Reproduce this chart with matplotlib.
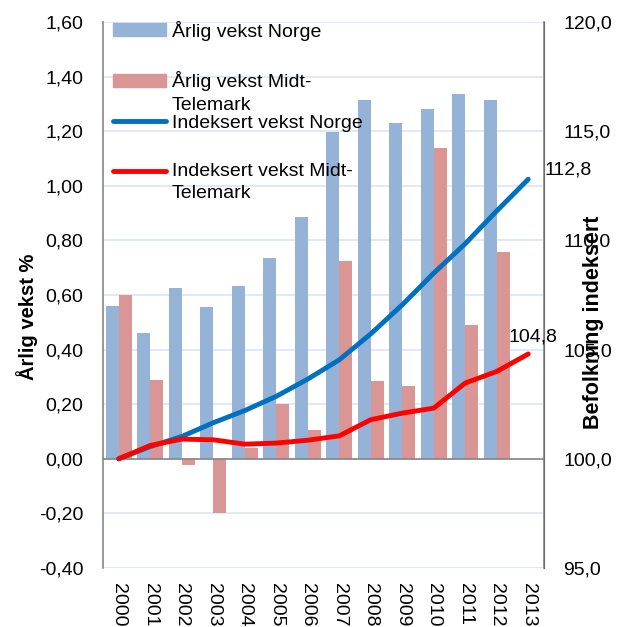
import numpy as np
import matplotlib
matplotlib.use("Agg")
import matplotlib.pyplot as plt
from matplotlib.patches import Patch
from matplotlib.lines import Line2D
from matplotlib.legend_handler import HandlerPatch, HandlerLine2D
from matplotlib.ticker import FuncFormatter

plt.rcParams['font.family'] = ['Liberation Sans', 'DejaVu Sans']

years = [str(y) for y in range(2000, 2014)]
vekst_norge = [0.56, 0.46, 0.625, 0.555, 0.634, 0.737, 0.884, 1.198, 1.314, 1.23, 1.28, 1.335, 1.314]
vekst_midt = [0.60, 0.287, -0.023, -0.20, 0.04, 0.199, 0.106, 0.723, 0.285, 0.265, 1.137, 0.49, 0.758]
indeks_norge = [100.0, 100.56, 101.02, 101.65, 102.21, 102.86, 103.65, 104.53, 105.72, 107.05, 108.5, 109.85, 111.35, 112.8]
indeks_midt = [100.0, 100.61, 100.9, 100.87, 100.67, 100.72, 100.85, 101.05, 101.79, 102.09, 102.32, 103.47, 104.0, 104.8]

blue_bar = '#95B3D7'
red_bar = '#D99694'
blue_line = '#0070C0'
red_line = '#FF0000'
grid_c = '#DCE6F2'
axis_c = '#868686'
fs = 14


# handles for two-line labels sit at the first line (like Excel)
class TopPatch(HandlerPatch):
    def create_artists(self, legend, orig_handle, xdescent, ydescent, width, height, fontsize, trans):
        return super().create_artists(legend, orig_handle, xdescent, ydescent - 0.59 * fontsize,
                                      width, height, fontsize, trans)


class TopLine(HandlerLine2D):
    def create_artists(self, legend, orig_handle, xdescent, ydescent, width, height, fontsize, trans):
        return super().create_artists(legend, orig_handle, xdescent, ydescent,
                                      width, height + 2 * 0.59 * fontsize, fontsize, trans)


fig = plt.figure(figsize=(6.17, 6.27), dpi=100)
ax = fig.add_axes([103/617, 1-568/627, 441/617, 546/627])
ax2 = ax.twinx()

x = np.arange(len(years))
nb = len(vekst_norge)
w = 0.42
ax.bar(x[:nb] - w/2, vekst_norge, w, color=blue_bar, zorder=2)
ax.bar(x[:nb] + w/2, vekst_midt, w, color=red_bar, zorder=2)

ax.set_ylim(-0.4, 1.6)
ax.set_xlim(-0.5, len(years) - 0.5)
ax.set_yticks(np.arange(-0.4, 1.61, 0.2))
ax.yaxis.set_major_formatter(FuncFormatter(lambda v, p: f"{v:.2f}".replace('.', ',').replace('-0,00', '0,00')))
ax.grid(axis='y', color=grid_c, lw=1.2, zorder=0)
ax.set_axisbelow(True)
ax.axhline(0, color=axis_c, lw=1.2, zorder=3)
ax.set_xticks(x)
ax.set_xticklabels(years, rotation=270)
ax.tick_params(axis='y', length=0, labelsize=fs, pad=14)
ax.tick_params(axis='x', length=0, labelsize=fs, pad=11)
for s in ['top', 'bottom']:
    ax.spines[s].set_visible(False)
ax.spines['left'].set_color(axis_c)
ax.spines['left'].set_linewidth(1.2)

ax2.plot(x, indeks_norge, color=blue_line, lw=3.5, solid_capstyle='round', zorder=4)
ax2.plot(x, indeks_midt, color=red_line, lw=3.5, solid_capstyle='round', zorder=4)
ax2.set_ylim(95, 120)
ax2.set_yticks(np.arange(95, 120.1, 5))
ax2.yaxis.set_major_formatter(FuncFormatter(lambda v, p: f"{v:.1f}".replace('.', ',')))
ax2.tick_params(axis='y', length=0, labelsize=fs, pad=14)
for s in ['top', 'bottom', 'left']:
    ax2.spines[s].set_visible(False)
ax2.spines['right'].set_color(axis_c)
ax2.spines['right'].set_linewidth(1.2)

ax2.annotate(f"{indeks_norge[-1]:.1f}".replace('.', ','), (x[-1], indeks_norge[-1]),
             xytext=(12, 7), textcoords='offset points', fontsize=fs, ha='left', va='center')
ax2.annotate(f"{indeks_midt[-1]:.1f}".replace('.', ','), (x[-1], indeks_midt[-1]),
             xytext=(-14, 12), textcoords='offset points', fontsize=fs, ha='left', va='center')

h_bar1 = Patch(color=blue_bar)
h_bar2 = Patch(color=red_bar)
h_ln1 = Line2D([], [], color=blue_line, lw=3.5, solid_capstyle='round')
h_ln2 = Line2D([], [], color=red_line, lw=3.5, solid_capstyle='round')
leg_kw = dict(loc='upper left', frameon=False, fontsize=fs, handlelength=2.75, handleheight=0.65,
              handletextpad=0.3, labelspacing=1.57, borderaxespad=0.0, borderpad=0.5)

leg1 = ax2.legend([h_bar1, h_bar2], ['Årlig vekst Norge', 'Årlig vekst Midt-\nTelemark'],
                  bbox_to_anchor=(0.0, 1.02), handler_map={h_bar2: TopPatch()}, **leg_kw)
ax2.add_artist(leg1)
leg2 = ax2.legend([h_ln1, h_ln2], ['Indeksert vekst Norge', 'Indeksert vekst Midt-\nTelemark'],
                  bbox_to_anchor=(0.0, 0.848), handler_map={h_ln2: TopLine()}, **leg_kw)
for lg in (leg1, leg2):
    lg.set_zorder(5)
    for t in lg.get_texts():
        t.set_linespacing(1.45)

fig.text(27/617, 1-317/627, 'Årlig vekst %', rotation=90, fontsize=14.5, fontweight='bold',
         ha='center', va='center')
fig.text(594/617, 1-322/627, 'Befolkning indeksert', rotation=90, fontsize=15.5, fontweight='bold',
         ha='center', va='center')

fig.savefig('out.png', dpi=100)
